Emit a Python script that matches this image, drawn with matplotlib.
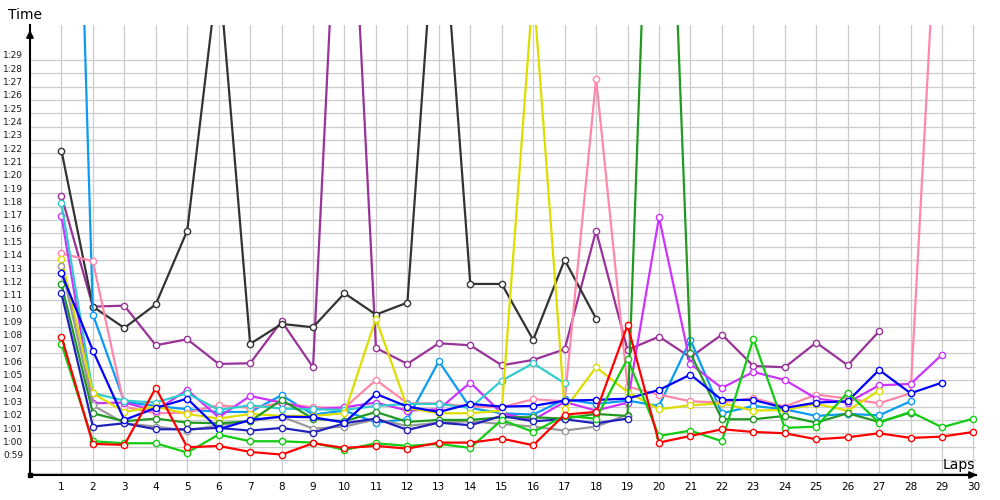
import numpy as np
import matplotlib
matplotlib.use('Agg')
import matplotlib.pyplot as plt
from matplotlib.transforms import ScaledTranslation

# lap times in seconds, one list per driver, starting at lap 1
red = [68.25, 60.2, 60.13, 64.4, 59.95, 60.05, 59.6, 59.4, 60.25, 59.9, 60.05, 59.85, 60.3, 60.3, 60.6,
       60.1, 62.4, 62.6, 69.1, 60.3, 60.8, 61.3, 61.1, 61.0, 60.55, 60.7, 61.0, 60.65, 60.75, 61.1]
green = [67.7, 60.4, 60.25, 60.25, 59.55, 60.9, 60.4, 60.4, 60.3, 59.75, 60.25, 60.05, 60.2, 59.9, 62.0,
         61.1, 62.3, 62.1, 66.6, 60.8, 61.2, 60.4, 68.1, 61.4, 61.5, 64.05, 61.8, 62.6, 61.45, 62.1]
darkgreen = [72.2, 62.5, 61.9, 62.1, 61.8, 61.75, 61.9, 63.5, 62.1, 61.9, 62.6, 61.85, 62.0, 62.0, 62.2,
             62.2, 62.1, 62.45, 62.3, 128.0, 67.0, 62.05, 62.05, 62.3, 61.8, 62.5, 61.85, 62.55]
blue = [73.0, 67.2, 62.0, 62.9, 63.6, 61.3, 62.0, 62.25, 62.2, 61.8, 63.95, 63.0, 62.6, 63.2, 63.0,
        63.05, 63.45, 63.5, 63.6, 64.25, 65.4, 63.5, 63.5, 62.9, 63.3, 63.4, 65.75, 64.0, 64.8]
navy = [71.5, 61.5, 61.75, 61.3, 61.3, 61.4, 61.2, 61.4, 61.05, 61.75, 62.1, 61.25, 61.8, 61.6, 62.3,
        61.9, 62.05, 61.75, 62.1]
gray = [73.55, 63.1, 61.75, 61.5, 61.2, 61.6, 61.9, 62.25, 61.35, 61.5, 62.05, 61.55, 61.8, 61.9, 61.7,
        61.5, 61.2, 61.5, 62.4]
yellow = [74.1, 64.0, 62.6, 63.0, 62.45, 62.1, 62.45, 62.3, 62.3, 62.5, 69.6, 62.9, 62.5, 62.5, 62.7,
          94.5, 62.8, 65.95, 64.1, 62.8, 63.1, 63.25, 62.7, 62.75, 63.2, 62.7, 64.2]
cyan = [78.25, 64.0, 63.45, 63.3, 64.0, 62.75, 63.1, 62.85, 62.8, 62.75, 63.05, 63.2, 63.2, 62.9, 64.95,
        66.25, 64.75]
skyblue = [150.0, 69.9, 63.35, 63.05, 62.8, 62.6, 62.6, 63.85, 62.4, 62.7, 61.8, 62.05, 66.4, 62.9, 62.5,
           62.4, 63.55, 63.2, 63.45, 63.05, 68.0, 62.5, 63.05, 62.8, 62.3, 62.45, 62.35, 63.4]
pink = [74.5, 73.9, 63.0, 62.5, 62.55, 63.1, 62.9, 63.25, 62.95, 62.9, 65.0, 63.25, 63.25, 63.0, 62.95,
        63.55, 63.4, 87.6, 64.5, 63.9, 63.4, 63.3, 63.65, 63.0, 63.9, 63.6, 63.25, 64.0, 108.0]
magenta = [77.3, 63.25, 63.3, 62.7, 64.25, 62.2, 63.8, 63.3, 62.8, 62.95, 63.3, 62.7, 62.8, 64.8, 62.5,
           62.0, 63.35, 62.7, 63.3, 77.2, 66.2, 64.4, 65.6, 65.0, 63.6, 63.3, 64.6, 64.7, 66.9]
purple = [78.8, 70.5, 70.57, 67.6, 68.05, 66.2, 66.25, 69.4, 65.95, 114.5, 67.4, 66.2, 67.75, 67.6, 66.1,
          66.5, 67.3, 76.2, 67.25, 68.25, 66.7, 68.4, 66.05, 65.95, 67.8, 66.1, 68.65]
black = [82.2, 70.5, 68.9, 70.67, 76.2, 96.0, 67.7, 69.2, 68.95, 71.5, 69.9, 70.8, 104.0, 72.2, 72.2,
         68.0, 74.0, 69.6]

series = [(purple, '#993399'), (black, '#333333'), (skyblue, '#0a9bf5'), (pink, '#ff88aa'),
          (magenta, '#cc33ff'), (cyan, '#33cccc'), (yellow, '#dddd00'), (gray, '#999999'),
          (darkgreen, '#229922'), (navy, '#2222bb'), (blue, '#0000ff'), (green, '#11cc11'),
          (red, '#ff0000')]

laps = np.arange(1, 31)
yticks = np.arange(58, 90)

fig = plt.figure(figsize=(10, 5), dpi=100)
ax = fig.add_axes([0.030, 0.05, 0.946, 0.90])

for vals, col in series:
    ax.plot(laps[:len(vals)], vals, color=col, lw=1.6, marker='o', ms=4.5,
            mfc='white', mec=col, mew=1.0)

ax.set_xlim(0, 30.08)
ax.set_ylim(57.87, 91.62)

ax.set_xticks(laps)
ax.set_xticklabels([str(i) for i in laps], fontsize=7.5)
ax.set_yticks(yticks)
ax.set_yticklabels(['' if t == 58 else '%d:%02d' % (t // 60, t % 60) for t in yticks],
                   fontsize=6.5, color='#1a1a1a')
ax.tick_params(length=0, pad=5)
ax.grid(color='#cccccc', lw=0.9)
ax.set_axisbelow(True)

# labels sit a little above their grid line
for lab in ax.get_yticklabels():
    lab.set_transform(lab.get_transform() + ScaledTranslation(0, 0.05, fig.dpi_scale_trans))

for s in ['top', 'right']:
    ax.spines[s].set_visible(False)
for s in ['left', 'bottom']:
    ax.spines[s].set_linewidth(1.5)
    ax.spines[s].set_color('black')

# axis arrows
ax.annotate('', xy=(0, 0.995), xytext=(0, 0.96), xycoords='axes fraction',
            arrowprops=dict(arrowstyle='-|>', color='black', lw=1.5, mutation_scale=10),
            annotation_clip=False)
ax.annotate('', xy=(1.004, 0), xytext=(0.985, 0), xycoords='axes fraction',
            arrowprops=dict(arrowstyle='-|>', color='black', lw=1.5, mutation_scale=10),
            annotation_clip=False)
ax.plot(0, 57.87, 's', color='black', ms=2.5, clip_on=False)

fig.text(0.025, 0.97, 'Time', fontsize=10, ha='center', va='center')
fig.text(0.959, 0.07, 'Laps', fontsize=10, ha='center', va='center')

fig.savefig('out.png', dpi=100)
